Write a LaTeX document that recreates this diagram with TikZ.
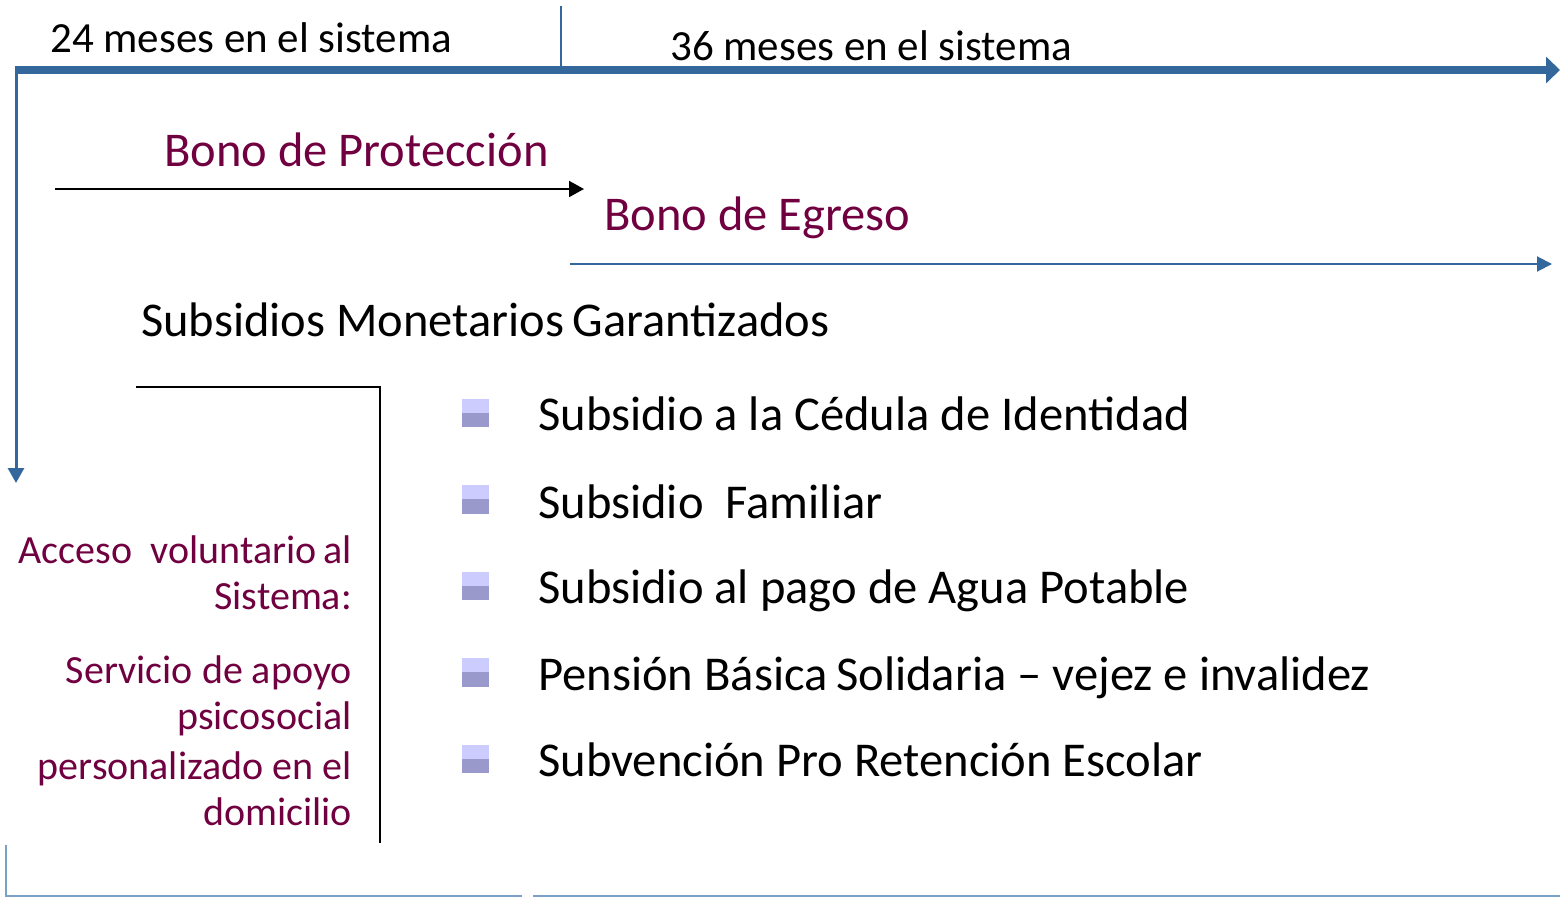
\documentclass[tikz,border=0pt]{standalone}
\usepackage{fontspec}
\setmainfont{Carlito}
\usetikzlibrary{arrows.meta}
\definecolor{tlblue}{RGB}{52,104,156}
\definecolor{lightline}{RGB}{122,160,200}
\definecolor{maroon}{RGB}{112,0,64}
\definecolor{bulA}{RGB}{204,204,255}
\definecolor{bulB}{RGB}{153,153,204}
\tikzset{
  big/.style={font=\fontsize{43}{48}\selectfont, anchor=base west, inner sep=0pt},
  title/.style={font=\fontsize{48.5}{54}\selectfont, anchor=base west, inner sep=0pt},
  red/.style={text=maroon},
  item/.style={font=\fontsize{48.6}{54}\selectfont, anchor=base west, inner sep=0pt},
  side/.style={font=\fontsize{40}{46}\selectfont, anchor=base east, inner sep=0pt, text=maroon},
  bullet/.pic={
    \fill[bulA] (-13.5,-14) rectangle (13.5,0);
    \fill[bulB] (-13.5,0) rectangle (13.5,14.5);
  }
}
\begin{document}
\begin{tikzpicture}[x=1pt,y=-1pt]
\useasboundingbox (0,0) rectangle (1560,897);
% coordinates
\coordinate (tl) at (16,70);
\coordinate (tr) at (1560,70);
\coordinate (mid) at (561,6);
\coordinate (midb) at (561,70);
\coordinate (down) at (16,483);
\coordinate (bpA) at (55,189);
\coordinate (bpB) at (584,189);
\coordinate (beA) at (570,264);
\coordinate (beB) at (1552,264);
\coordinate (brA) at (136,387);
\coordinate (brB) at (380,387);
\coordinate (brC) at (380,843);
\coordinate (bl1) at (6,845);
\coordinate (bl2) at (6,896);
\coordinate (bl3) at (522,896);
\coordinate (bl4) at (533,896);
\coordinate (bl5) at (1560,896);

% timeline
\draw[tlblue, line width=2pt] (mid) -- (midb);
\draw[tlblue, line width=8pt, -{Triangle[length=14pt,width=26pt]}] ([xshift=-1.5pt]tl) -- (tr);
\draw[tlblue, line width=3pt, -{Triangle[length=15pt,width=16pt]}] (tl) -- (down);

\node[big] (t24) at (50,52) {24 meses en el sistema};
\node[big] (t36) at (670,60) {36 meses en el sistema};

\node[title,red] (bp) at (164,166) {Bono de Protección};
\draw[black, line width=2pt, -{Triangle[length=15pt,width=16pt]}] (bpA) -- (bpB);

\node[title,red] (be) at (604,230) {Bono de Egreso};
\draw[tlblue, line width=2pt, -{Triangle[length=15pt,width=15pt]}] (beA) -- (beB);

\node[title] (smg) at (141,336) {Subsidios Monetarios\kern-0.05em\ Garantizados};

\draw[black, line width=2pt] (brA) -- (brB) -- (brC);

% bullets
\pic at (475.5,412.5) {bullet};
\pic at (475.5,499) {bullet};
\pic at (475.5,585.5) {bullet};
\pic at (475.5,672) {bullet};
\pic at (475.5,758.5) {bullet};

\node[item] (i1) at (538,430) {Subsidio a la Cédula de Identidad};
\node[item] (i2) at (538,518) {Subsidio\ \ Familiar};
\node[item] (i3) at (538,603) {Subsidio al pago de Agua Potable};
\node[item] (i4) at (538,690) {Pensión Básica\kern-0.05em\ Solidaria – vejez e invalidez};
\node[item] (i5) at (538,776) {Subvención Pro Retención Escolar};

% side text
\node[side] (s1) at (352,563) {Acceso\ \ voluntario\kern-0.05em\ al};
\node[side] (s2) at (352,609) {Sistema:};
\node[side] (s3) at (352,683) {Servicio de apoyo};
\node[side] (s4) at (352,729) {psicosocial};
\node[side] (s5) at (352,779) {personalizado en el};
\node[side] (s6) at (352,825) {domicilio};

% bottom lines
\draw[lightline, line width=2pt] (bl1) -- (bl2) -- (bl3);
\draw[lightline, line width=2pt] (bl4) -- (bl5);
\end{tikzpicture}
\end{document}
